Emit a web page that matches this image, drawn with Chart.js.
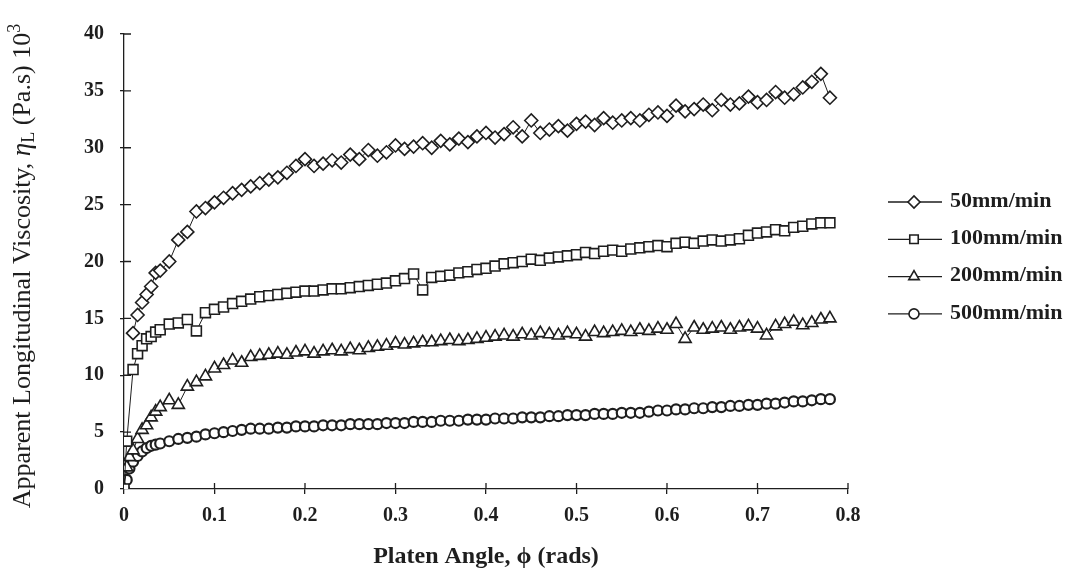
<!DOCTYPE html>
<html>
<head>
<meta charset="utf-8">
<script src="https://cdn.jsdelivr.net/npm/chart.js@4.4.1/dist/chart.umd.min.js"></script>
<style>
  html, body { margin: 0; padding: 0; background: #fff; }
  #wrap { width: 1070px; height: 571px; }
</style>
</head>
<body>
<div id="wrap"><canvas id="c" width="1070" height="571"></canvas></div>
<script>
// platen angle (rads), shared by all four series
const angle = [0, 0.003, 0.006, 0.01, 0.015, 0.02, 0.025, 0.03, 0.035, 0.04, 0.05, 0.06, 0.07, 0.08, 0.09,
  0.10, 0.11, 0.12, 0.13, 0.14, 0.15, 0.16, 0.17, 0.18, 0.19, 0.20, 0.21, 0.22, 0.23, 0.24, 0.25, 0.26, 0.27, 0.28, 0.29,
  0.30, 0.31, 0.32, 0.33, 0.34, 0.35, 0.36, 0.37, 0.38, 0.39, 0.40, 0.41, 0.42, 0.43, 0.44, 0.45, 0.46, 0.47, 0.48, 0.49,
  0.50, 0.51, 0.52, 0.53, 0.54, 0.55, 0.56, 0.57, 0.58, 0.59, 0.60, 0.61, 0.62, 0.63, 0.64, 0.65, 0.66, 0.67, 0.68, 0.69,
  0.70, 0.71, 0.72, 0.73, 0.74, 0.75, 0.76, 0.77, 0.78];

// apparent longitudinal viscosity (Pa.s x10^3)
const visc50 = [null, null, null, 13.7, 15.3, 16.4, 17.1, 17.8, 19.0, 19.2, 20.0, 21.9, 22.6, 24.4, 24.7,
  25.2, 25.6, 26.0, 26.3, 26.6, 26.9, 27.2, 27.4, 27.8, 28.4, 29.0, 28.4, 28.6, 28.9, 28.7, 29.4, 29.0, 29.8, 29.3, 29.6,
  30.2, 29.9, 30.1, 30.4, 30.0, 30.6, 30.3, 30.8, 30.5, 31.0, 31.3, 30.9, 31.2, 31.8, 31.0, 32.4, 31.3, 31.6, 31.9, 31.5,
  32.1, 32.3, 32.0, 32.6, 32.2, 32.4, 32.6, 32.4, 32.9, 33.1, 32.8, 33.7, 33.2, 33.4, 33.8, 33.3, 34.2, 33.8, 33.9, 34.5,
  34.0, 34.2, 34.9, 34.4, 34.7, 35.3, 35.8, 36.5, 34.4];
const visc100 = [0, 4.2, null, 10.5, 11.9, 12.6, 13.2, 13.4, 13.8, 14.0, 14.5, 14.6, 14.9, 13.9, 15.5,
  15.8, 16.0, 16.3, 16.5, 16.7, 16.9, 17.0, 17.1, 17.2, 17.3, 17.4, 17.4, 17.5, 17.6, 17.6, 17.7, 17.8, 17.9, 18.0, 18.1,
  18.3, 18.5, 18.9, 17.5, 18.6, 18.7, 18.8, 19.0, 19.1, 19.3, 19.4, 19.6, 19.8, 19.9, 20.0, 20.2, 20.1, 20.3, 20.4, 20.5,
  20.6, 20.8, 20.7, 20.9, 21.0, 20.9, 21.1, 21.2, 21.3, 21.4, 21.3, 21.6, 21.7, 21.6, 21.8, 21.9, 21.8, 21.9, 22.0, 22.3,
  22.5, 22.6, 22.8, 22.7, 23.0, 23.1, 23.3, 23.4, 23.4];
const visc200 = [0, 1.9, 2.8, 3.4, 4.4, 5.2, 5.6, 6.3, 6.8, 7.2, 7.8, 7.4, 9.0, 9.4, 9.9,
  10.6, 10.9, 11.3, 11.1, 11.6, 11.7, 11.8, 11.9, 11.8, 12.0, 12.1, 11.9, 12.1, 12.2, 12.1, 12.3, 12.2, 12.4, 12.5, 12.6,
  12.8, 12.7, 12.8, 12.9, 12.9, 13.0, 13.1, 13.0, 13.1, 13.2, 13.3, 13.4, 13.5, 13.4, 13.6, 13.5, 13.7, 13.6, 13.5, 13.7,
  13.6, 13.4, 13.8, 13.7, 13.8, 13.9, 13.8, 14.0, 13.9, 14.1, 14.0, 14.5, 13.2, 14.2, 14.0, 14.1, 14.2, 14.0, 14.2, 14.3,
  14.1, 13.5, 14.3, 14.5, 14.7, 14.4, 14.6, 14.9, 15.0];
const visc500 = [0, 0.8, 1.8, 2.4, 2.9, 3.3, 3.6, 3.8, 3.9, 4.0, 4.2, 4.4, 4.5, 4.6, 4.8,
  4.9, 5.0, 5.1, 5.2, 5.3, 5.3, 5.3, 5.4, 5.4, 5.5, 5.5, 5.5, 5.6, 5.6, 5.6, 5.7, 5.7, 5.7, 5.7, 5.8,
  5.8, 5.8, 5.9, 5.9, 5.9, 6.0, 6.0, 6.0, 6.1, 6.1, 6.1, 6.2, 6.2, 6.2, 6.3, 6.3, 6.3, 6.4, 6.4, 6.5,
  6.5, 6.5, 6.6, 6.6, 6.6, 6.7, 6.7, 6.7, 6.8, 6.9, 6.9, 7.0, 7.0, 7.1, 7.1, 7.2, 7.2, 7.3, 7.3, 7.4,
  7.4, 7.5, 7.5, 7.6, 7.7, 7.7, 7.8, 7.9, 7.9];

const seriesNames = ["50mm/min", "100mm/min", "200mm/min", "500mm/min"];
const seriesValues = [visc50, visc100, visc200, visc500];
const markers = ["rectRot", "rect", "triangle", "circle"];
const markerSize = [6.5, 7, 7, 5];
const markerLine = [1.6, 1.6, 1.6, 2.2];

const xTicks = [0, 0.1, 0.2, 0.3, 0.4, 0.5, 0.6, 0.7, 0.8];
const yTicks = [0, 5, 10, 15, 20, 25, 30, 35, 40];

const INK = "#1e1e1e";
const SERIF = "'Liberation Serif', 'Times New Roman', serif";

function toPoints(vals) {
  return angle.map((a, i) => ({ x: a, y: vals[i] }));
}

/* cross ticks: the inner part of every tick mark */
const innerTicks = {
  id: "innerTicks",
  afterDraw(chart) {
    const { ctx, chartArea } = chart;
    const xs = chart.scales.x, ys = chart.scales.y;
    ctx.save();
    ctx.strokeStyle = INK;
    ctx.lineWidth = 1.3;
    ctx.beginPath();
    xTicks.forEach(v => {
      if (v === 0) return;
      const px = xs.getPixelForValue(v);
      ctx.moveTo(px, chartArea.bottom);
      ctx.lineTo(px, chartArea.bottom - 6);
    });
    yTicks.forEach(v => {
      if (v === 0) return;
      const py = ys.getPixelForValue(v);
      ctx.moveTo(chartArea.left, py);
      ctx.lineTo(chartArea.left + 7, py);
    });
    ctx.stroke();
    ctx.restore();
  }
};

/* y title with subscript / superscript */
const yTitle = {
  id: "yTitle",
  afterDraw(chart) {
    const { ctx } = chart;
    const big = "26px " + SERIF;
    const small = "18px " + SERIF;
    const parts = [
      { t: "Apparent Longitudinal Viscosity, ", f: big, dy: 0 },
      { t: "η", f: "italic 27px " + SERIF, dy: 0 },
      { t: "L", f: small, dy: 4 },
      { t: " (Pa.s) 10", f: big, dy: 0 },
      { t: "3", f: small, dy: -10 }
    ];
    ctx.save();
    let total = 0;
    parts.forEach(p => { ctx.font = p.f; p.w = ctx.measureText(p.t).width; total += p.w; });
    ctx.translate(30, 266);
    ctx.rotate(-Math.PI / 2);
    ctx.fillStyle = INK;
    ctx.textBaseline = "alphabetic";
    let x = -total / 2;
    parts.forEach(p => {
      ctx.font = p.f;
      ctx.fillText(p.t, x, p.dy);
      x += p.w;
    });
    ctx.restore();
  }
};

/* legend: short line with the marker on it, label to the right */
const lineLegend = {
  id: "lineLegend",
  afterDraw(chart) {
    const { ctx, chartArea } = chart;
    const x0 = chartArea.right + 40;
    ctx.save();
    chart.data.datasets.forEach((ds, i) => {
      const y = 202 + i * 37.3;
      ctx.strokeStyle = INK;
      ctx.lineWidth = 1.3;
      ctx.beginPath();
      ctx.moveTo(x0, y);
      ctx.lineTo(x0 + 54, y);
      ctx.stroke();
      ctx.fillStyle = "#fff";
      ctx.lineWidth = 1.6;
      Chart.helpers.drawPoint(ctx, {
        pointStyle: ds.pointStyle, radius: Math.min(ds.pointRadius, 6), rotation: 0, borderWidth: 1.6
      }, x0 + 26, y);
      ctx.fillStyle = INK;
      ctx.font = "bold 22px " + SERIF;
      ctx.textBaseline = "middle";
      ctx.fillText(ds.label, x0 + 62, y - 1);
    });
    ctx.restore();
  }
};

const datasets = seriesNames.map((name, i) => ({
  label: name,
  data: toPoints(seriesValues[i]),
  borderColor: INK,
  borderWidth: 1,
  pointStyle: markers[i],
  pointRadius: markerSize[i],
  pointBorderWidth: markerLine[i],
  pointBorderColor: INK,
  pointBackgroundColor: "#fff",
  showLine: true,
  spanGaps: true,
  tension: 0
}));

new Chart(document.getElementById("c"), {
  type: "scatter",
  data: { datasets },
  options: {
    responsive: false,
    animation: false,
    events: [],
    layout: { padding: { left: 0, top: 34, right: 222, bottom: 0 } },
    plugins: { legend: { display: false }, tooltip: { enabled: false } },
    scales: {
      x: {
        type: "linear",
        min: 0, max: 0.8,
        afterBuildTicks: s => { s.ticks = xTicks.map(v => ({ value: v })); },
        afterFit: s => { s.height = 82; },
        border: { display: true, color: INK, width: 1.3 },
        grid: { drawOnChartArea: false, color: INK, lineWidth: 1.3, tickLength: 5 },
        ticks: {
          color: INK, padding: 10,
          font: { family: SERIF, size: 20, weight: "bold" },
          callback: v => String(v)
        },
        title: {
          display: true, text: "Platen Angle, ϕ (rads)", color: INK,
          font: { family: SERIF, size: 24, weight: "bold" },
          padding: { top: 0, bottom: 0 }
        }
      },
      y: {
        type: "linear",
        min: 0, max: 40,
        afterBuildTicks: s => { s.ticks = yTicks.map(v => ({ value: v })); },
        afterFit: s => { s.width = 124; },
        border: { display: true, color: INK, width: 1.3 },
        grid: { drawOnChartArea: false, color: INK, lineWidth: 1.3, tickLength: 4 },
        ticks: {
          color: INK, padding: 16,
          font: { family: SERIF, size: 20, weight: "bold" }
        }
      }
    }
  },
  plugins: [innerTicks, yTitle, lineLegend]
});
</script>
</body>
</html>
